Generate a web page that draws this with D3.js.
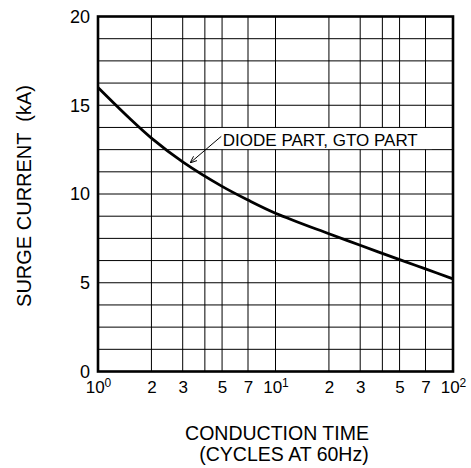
<!DOCTYPE html>
<html>
<head>
<meta charset="utf-8">
<script src="https://cdn.jsdelivr.net/npm/d3@7"></script>
<style>
  body { margin: 0; background: #fff; }
  text { font-family: "Liberation Sans", Arial, sans-serif; fill: #000; }
</style>
</head>
<body>
<svg id="chart" width="471" height="468"></svg>
<script>
// surge current vs conduction time
const cycles = [1, 1.5, 2, 3, 5, 7, 10, 20, 30, 50, 70, 100];
const surgeKA = [16.0, 14.28, 13.15, 11.81, 10.43, 9.66, 8.92, 7.76, 7.11, 6.3, 5.78, 5.22];

const xGridValues = [2, 3, 4, 5, 7, 10, 20, 30, 40, 50, 70];
const xTickValues = [1, 2, 3, 5, 7, 10, 20, 30, 50, 70, 100];
const yGridValues = d3.range(1.25, 20, 1.25);
const yTickValues = [0, 5, 10, 15, 20];
const curveLabel = "DIODE PART, GTO PART";

const svg = d3.select("#chart");
const margin = { top: 16.5, left: 98 };
const innerWidth = 355;
const innerHeight = 355;

const g = svg.append("g")
  .attr("transform", `translate(${margin.left},${margin.top})`);

const xScale = d3.scaleLog().domain([1, 100]).range([0, innerWidth]);
const yScale = d3.scaleLinear().domain([0, 20]).range([innerHeight, 0]);

// grid
g.append("g").selectAll("line")
  .data(xGridValues)
  .join("line")
  .attr("x1", (d) => xScale(d)).attr("x2", (d) => xScale(d))
  .attr("y1", 0).attr("y2", innerHeight)
  .attr("stroke", "#000").attr("stroke-width", 1);

g.append("g").selectAll("line")
  .data(yGridValues)
  .join("line")
  .attr("x1", 0).attr("x2", innerWidth)
  .attr("y1", (d) => yScale(d)).attr("y2", (d) => yScale(d))
  .attr("stroke", "#000").attr("stroke-width", 1);

// white box behind the label
g.append("rect")
  .attr("x", xScale(4.7)).attr("y", yScale(13.72))
  .attr("width", xScale(76) - xScale(4.7))
  .attr("height", yScale(12.53) - yScale(13.72))
  .attr("fill", "#fff");

// frame
g.append("rect")
  .attr("width", innerWidth).attr("height", innerHeight)
  .attr("fill", "none").attr("stroke", "#000").attr("stroke-width", 2.6);

// curve
const lineGenerator = d3.line()
  .x((d) => xScale(d[0]))
  .y((d) => yScale(d[1]))
  .curve(d3.curveCatmullRom.alpha(0.5));

g.append("path")
  .datum(cycles.map((c, i) => [c, surgeKA[i]]))
  .attr("d", lineGenerator)
  .attr("fill", "none").attr("stroke", "#000").attr("stroke-width", 2.8);

// label and leader
svg.append("defs").append("marker")
  .attr("id", "arrow")
  .attr("viewBox", "0 0 10 10")
  .attr("refX", 10).attr("refY", 5)
  .attr("markerWidth", 7).attr("markerHeight", 7)
  .attr("orient", "auto")
  .append("path")
  .attr("d", "M0,1 L10,5 L0,9")
  .attr("fill", "none").attr("stroke", "#000").attr("stroke-width", 1.3);

g.append("line")
  .attr("x1", xScale(4.95)).attr("y1", yScale(13.25))
  .attr("x2", xScale(3.3)).attr("y2", yScale(11.75))
  .attr("stroke", "#000").attr("stroke-width", 1)
  .attr("marker-end", "url(#arrow)");

g.append("text")
  .attr("x", xScale(5.05)).attr("y", yScale(12.7))
  .attr("font-size", 17)
  .text(curveLabel);

// axes
const axisY = d3.axisLeft(yScale).tickValues(yTickValues).tickSize(0).tickPadding(8);
const axisYGroup = g.append("g").call(axisY);
axisYGroup.select(".domain").remove();
axisYGroup.selectAll("text").attr("font-size", 18).attr("font-family", null);

const axisX = d3.axisBottom(xScale).tickValues(xTickValues).tickSize(0).tickPadding(9)
  .tickFormat((d) => {
    const p = Math.log10(d);
    return Number.isInteger(p) ? "10" : String(d / Math.pow(10, Math.floor(p)));
  });
const axisXGroup = g.append("g")
  .attr("transform", `translate(0,${innerHeight})`)
  .call(axisX);
axisXGroup.select(".domain").remove();
axisXGroup.selectAll("text")
  .attr("font-size", 17).attr("font-family", null)
  .each(function (d) {
    const p = Math.log10(d);
    if (Number.isInteger(p)) {
      d3.select(this).append("tspan")
        .attr("dy", "-0.45em").attr("font-size", 12)
        .text(p);
    }
  });

// axis titles
svg.append("text")
  .attr("transform", "translate(31,196) rotate(-90)")
  .attr("text-anchor", "middle")
  .attr("font-size", 20)
  .style("white-space", "pre")
  .text("SURGE CURRENT  (kA)");

svg.append("text")
  .attr("x", 277).attr("y", 440)
  .attr("text-anchor", "middle")
  .attr("font-size", 19.5)
  .text("CONDUCTION TIME");

svg.append("text")
  .attr("x", 284).attr("y", 461)
  .attr("text-anchor", "middle")
  .attr("font-size", 19.5)
  .text("(CYCLES AT 60Hz)");
</script>
</body>
</html>
